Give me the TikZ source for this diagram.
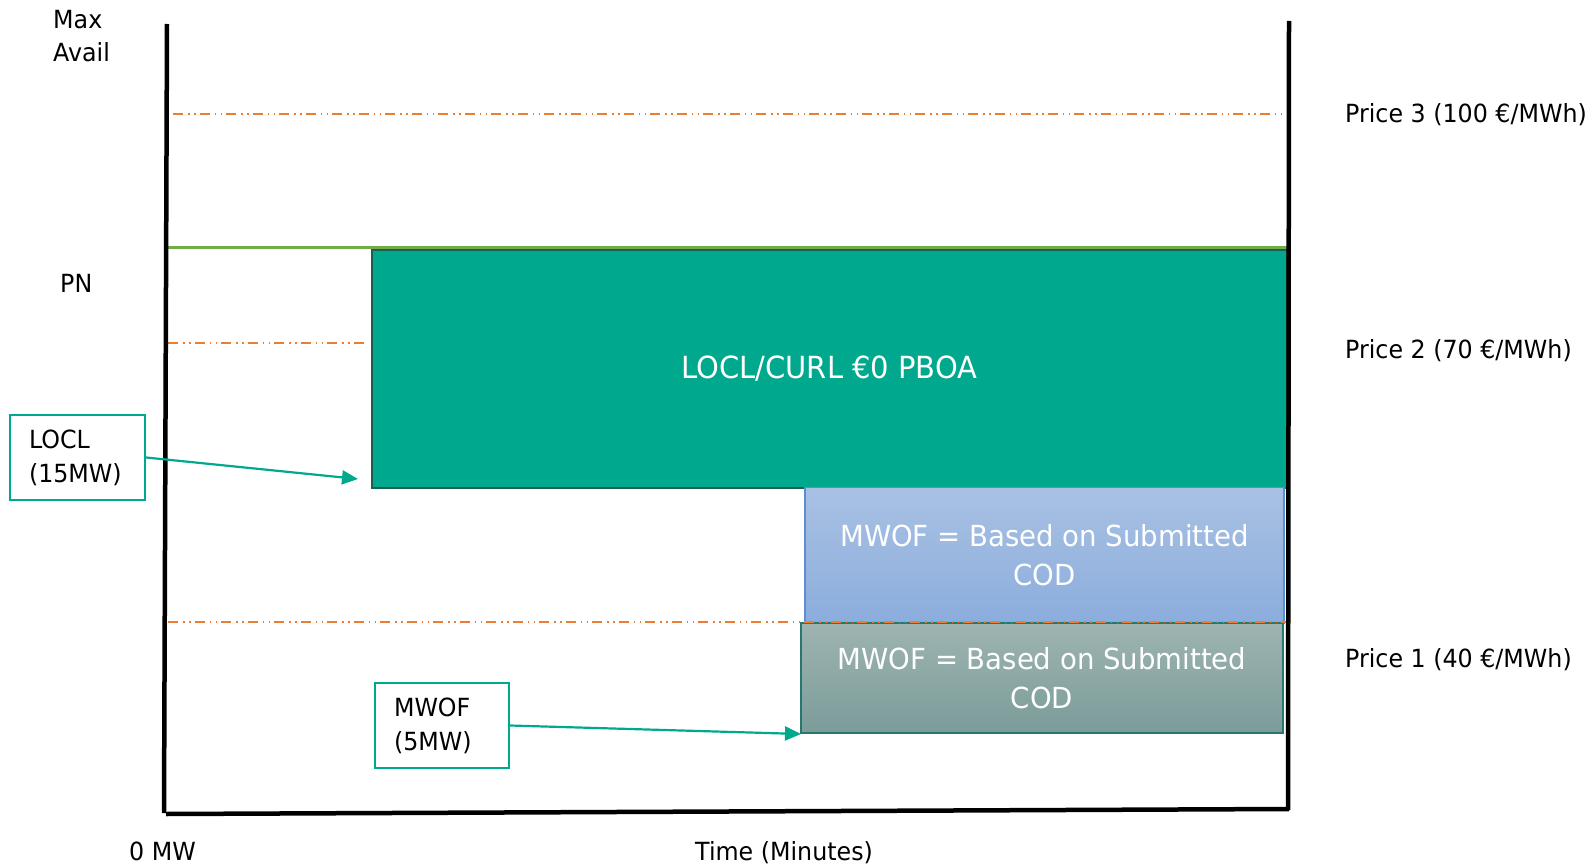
\documentclass[tikz,border=0pt]{standalone}
\usepackage{fontspec}
\setmainfont[FakeStretch=0.95]{DejaVu Sans}
\usetikzlibrary{arrows.meta}
\definecolor{tealfill}{HTML}{00A88E}
\definecolor{tealdark}{HTML}{1D5E50}
\definecolor{pngreen}{HTML}{70AD47}
\definecolor{priceorange}{HTML}{ED7D31}
\definecolor{bluetop}{HTML}{A9C1E3}
\definecolor{bluebot}{HTML}{8BADDC}
\definecolor{blueedge}{HTML}{5B8FCF}
\definecolor{graytop}{HTML}{9EB4B1}
\definecolor{graybot}{HTML}{7B9C99}
\definecolor{grayedge}{HTML}{24786E}
\begin{document}
\begin{tikzpicture}[x=1pt,y=-1pt,
  axis/.style={line width=4.5pt,black},
  priceline/.style={priceorange,line width=1.6pt,
    dash pattern=on 10pt off 5pt on 1.5pt off 4.5pt on 1.5pt off 4pt},
  txt/.style={inner sep=0pt,anchor=base west,font=\fontsize{25}{33}\selectfont},
  lblbox/.style={draw=tealfill,line width=2.2pt,inner xsep=19pt,inner ysep=0pt,
    minimum height=85pt,align=left,font=\fontsize{25}{34}\selectfont},
  boxtxt/.style={inner sep=0pt,align=center,text=white},
  arr/.style={draw=tealfill,line width=2.2pt,-{Triangle[length=16pt,width=14pt]}}
]
\useasboundingbox (0,0) rectangle (1591,864);

% price lines (behind boxes)
\draw[priceline] (173,114) -- (1283,114);
\draw[priceline] (168,343) -- (368,343);

% blocks
\node[boxtxt, draw=tealdark, line width=2pt, fill=tealfill,
  minimum width=915pt, minimum height=238pt,
  font=\fontsize{30.5}{39}\selectfont] (pboa) at (829.5,369) {LOCL/CURL €0 PBOA};
\node[boxtxt, draw=blueedge, line width=1.2pt, top color=bluetop, bottom color=bluebot,
  minimum width=479pt, minimum height=136pt,
  font=\fontsize{29}{39}\selectfont] (mwofb) at (1044.5,555.5) {MWOF = Based on Submitted\\COD};
\node[boxtxt, draw=grayedge, line width=1.5pt, top color=graytop, bottom color=graybot,
  minimum width=482pt, minimum height=110pt,
  font=\fontsize{29}{39}\selectfont] (mwofg) at (1042,678) {MWOF = Based on Submitted\\COD};

\draw[priceline] (168,622) -- (1290,622);

% PN line
\draw[pngreen,line width=3pt] (165,247) -- (1287,247);

% axes
\coordinate (lt) at (167,24);
\coordinate (lb) at (164,813);
\coordinate (rt) at (1289,21);
\coordinate (rb) at (1288,810);
\draw[axis] (lt) -- (lb);
\draw[axis] (rt) -- (rb);
\draw[axis] (166,814) -- (1289,809);

% labels
\node[txt] (max) at (53,29) {Max};
\node[txt] (avail) at (53,62) {Avail};
\node[txt] (pn) at (60,292) {PN};
\node[txt] (p3) at (1345,123) {Price 3 (100 €/MWh)};
\node[txt] (p2) at (1345,358) {Price 2 (70 €/MWh)};
\node[txt] (p1) at (1345,667) {Price 1 (40 €/MWh)};
\node[txt] (zero) at (129,860) {0 MW};
\node[txt] (time) at (695,860) {Time (Minutes)};

% callouts
\node[lblbox, text width=97pt] (locl) at (77.5,457.5) {LOCL\\(15MW)};
\node[lblbox, text width=96pt] (mwof) at (442,725.5) {MWOF\\(5MW)};
\coordinate (loclend) at (358,479);
\coordinate (mwofend) at (801,734);
\draw[arr] (locl.east) -- (loclend);
\draw[arr] (mwof.east) -- (mwofend);
\end{tikzpicture}
\end{document}
